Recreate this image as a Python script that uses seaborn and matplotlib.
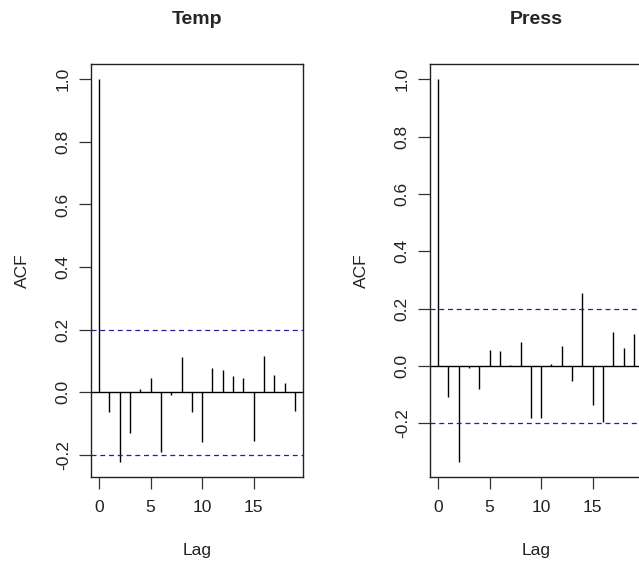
import matplotlib
matplotlib.use("Agg")
import matplotlib.pyplot as plt
import seaborn as sns
import numpy as np

# ACF values (lags 0..19)
LAGS = list(range(20))
TEMP_ACF = [1.0, -0.064, -0.222, -0.130, 0.009, 0.044, -0.190, -0.009, 0.112, -0.062,
            -0.159, 0.079, 0.072, 0.051, 0.044, -0.156, 0.117, 0.054, 0.031, -0.061]
PRESS_ACF = [1.0, -0.108, -0.334, -0.008, -0.080, 0.055, 0.052, 0.002, 0.082, -0.181,
             -0.181, 0.008, 0.071, -0.051, 0.256, -0.136, -0.196, 0.117, 0.062, 0.112]
# confidence bound, roughly 1.96 / sqrt(n)
CI = 0.2
TITLES = ['Temp', 'Press']
Y_TICKS = [-0.2, 0.0, 0.2, 0.4, 0.6, 0.8, 1.0]
X_TICKS = [0, 5, 10, 15]

W, H = 639, 567
CI_COLOR = '#22229a'

sns.set_style('ticks')
plt.rcParams['font.family'] = ['Liberation Sans', 'DejaVu Sans']


def r_range(lo, hi):
    """R-style axis range: data range stretched by 4% on each side"""
    d = (hi - lo) * 0.04
    return lo - d, hi + d


def plot_acf(ax, acf, title):
    ax.vlines(LAGS, 0, acf, color='black', lw=1.0)
    ax.axhline(0, color='black', lw=1.0)
    for c in (CI, -CI):
        ax.axhline(c, color=CI_COLOR, lw=0.9, ls=(0, (4, 3)))

    ax.set_xlim(*r_range(min(LAGS), max(LAGS)))
    ax.set_ylim(*r_range(min(min(acf), -CI), max(max(acf), CI)))
    ax.set_xticks(X_TICKS)
    ax.set_yticks(Y_TICKS)
    ax.set_yticklabels([f'{v:.1f}' for v in Y_TICKS], rotation=90, va='center')
    ax.tick_params(axis='both', direction='out', length=8.5, width=0.9,
                   color='#333333', labelsize=12.5, labelcolor='#222222')
    ax.tick_params(axis='y', pad=6)
    ax.tick_params(axis='x', pad=8)
    for s in ax.spines.values():
        s.set_visible(True)
        s.set_color('#222222')
        s.set_linewidth(1.0)

    ax.set_title(title, fontweight='bold', fontsize=14, pad=29)
    ax.set_xlabel('Lag', fontsize=12.5, color='#222222')
    ax.set_ylabel('ACF', fontsize=12.5, color='#222222')
    ax.xaxis.set_label_coords(0.5, -66 / 413)
    ax.yaxis.set_label_coords(-61 / 212, 0.5)


fig = plt.figure(figsize=(W / 100, H / 100), dpi=100)
lefts = [91, 430]
for left, acf, title in zip(lefts, [TEMP_ACF, PRESS_ACF], TITLES):
    ax = fig.add_axes([left / W, 1 - 477 / H, 212 / W, 413 / H])
    plot_acf(ax, acf, title)

fig.savefig('out.png', dpi=100)
